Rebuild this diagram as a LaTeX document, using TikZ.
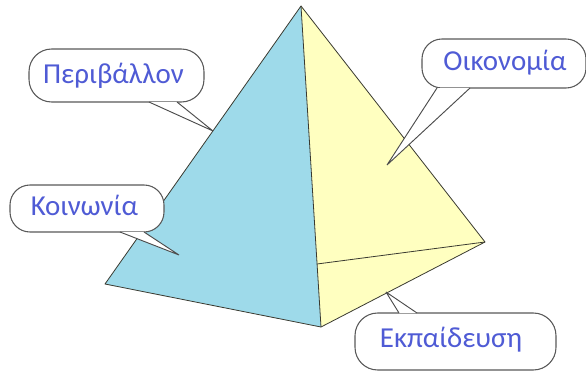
\documentclass[tikz,border=0pt]{standalone}
\usepackage{fontspec}
\setmainfont{Carlito}
\definecolor{faceblue}{HTML}{9EDAEA}
\definecolor{faceyellow}{HTML}{FFFFC0}
\definecolor{labelblue}{HTML}{4F5BD5}
\definecolor{edgecol}{HTML}{3A3A30}
\tikzset{
  x=0.75pt,y=-0.75pt,
  faceedge/.style={draw=edgecol,line width=0.6pt,line join=round},
  callout/.style={draw=black!65,fill=white,line width=0.8pt,line join=round},
  tailline/.style={draw=black!70,line width=0.7pt,line join=bevel},
  lbl/.style={text=labelblue,font=\fontsize{21.7pt}{24pt}\selectfont,inner sep=0pt,anchor=base}
}
% #1 left, #2 top, #3 right, #4 bottom, #5 radius, #6 x of one base point, #7 tip, #8 x of other base point, #9 y of tail base
\newcommand{\calloutshape}[9]{%
  \draw[callout,rounded corners=#5] (#1,#2) rectangle (#3,#4);
  \fill[white] (#6,#9) -- (#7) -- (#8,#9) -- cycle;
  \draw[tailline] (#6,#9) -- (#7) -- (#8,#9);
}
\begin{document}
\begin{tikzpicture}
\useasboundingbox (0,0) rectangle (586,371);
\coordinate (apex) at (301,6);
\coordinate (left) at (105,284);
\coordinate (bottom) at (321,327);
\coordinate (right) at (485,242);
\coordinate (inner) at (317,264);
\coordinate (tipP) at (213,131);
\coordinate (tipK) at (179,255);
\coordinate (tipO) at (387,165);
\coordinate (tipE) at (386,292);

\fill[faceyellow] (apex) -- (right) -- (bottom) -- cycle;
\fill[faceblue] (apex) -- (left) -- (bottom) -- cycle;
\draw[faceedge] (apex) -- (left) -- (bottom) -- (right) -- cycle;
\draw[faceedge] (apex) -- (bottom);
\draw[faceedge] (inner) -- (right);

\calloutshape{29}{49}{204}{102}{17pt}{177}{tipP}{149}{102}
\calloutshape{10}{185}{164}{232}{15pt}{144}{tipK}{120}{232}
\calloutshape{422}{39}{586}{88}{15pt}{470}{tipO}{437}{88}
\calloutshape{355}{313}{556}{370}{17pt}{399}{tipE}{417}{313}

\node[lbl] (perivallon) at (113.5,83) {Περιβάλλον};
\node[lbl] (koinonia) at (84.5,215) {Κοινωνία};
\node[lbl] (oikonomia) at (505,70) {Οικονομία};
\node[lbl] (ekpaidefsi) at (451,347) {Εκπαίδευση};
\end{tikzpicture}
\end{document}
